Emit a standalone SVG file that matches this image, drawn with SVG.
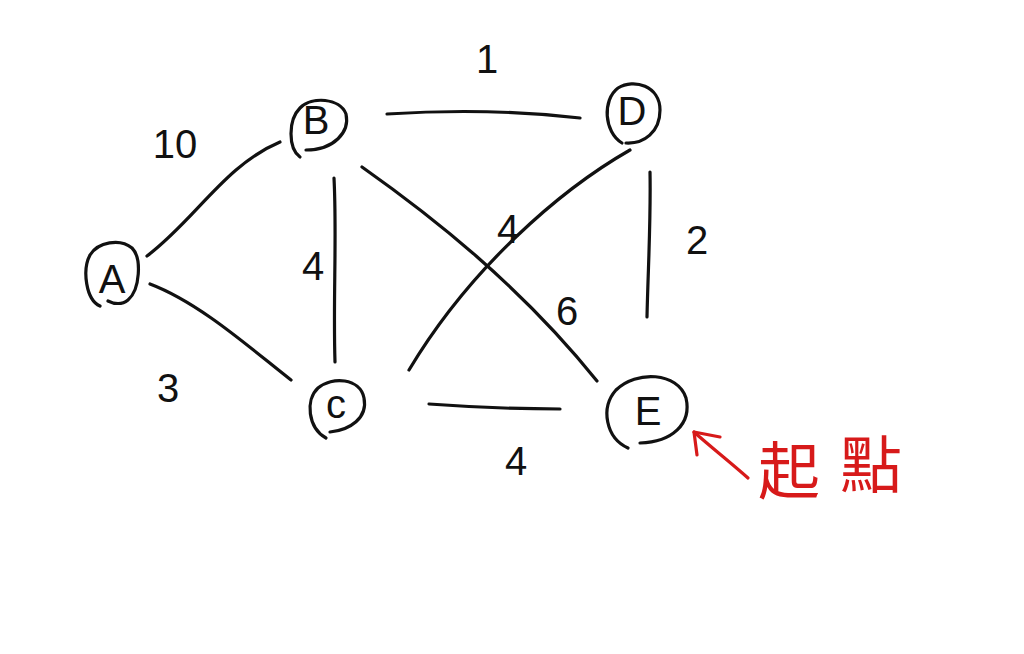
<svg xmlns="http://www.w3.org/2000/svg" width="1024" height="654" viewBox="0 0 1024 654">
<style>
.stroke{fill:none;stroke:#111;stroke-width:3.2;stroke-linecap:round;stroke-linejoin:round}
.lbl{font-family:"Liberation Sans","DejaVu Sans",sans-serif;font-size:40px;fill:#111;text-anchor:middle}
.red{fill:none;stroke:#d71a1a;stroke-width:3.2;stroke-linecap:round;stroke-linejoin:round}
</style>
<rect width="1024" height="654" fill="#ffffff"/>
<g id="connectors" class="stroke">
<path d="M147,256 C195,220 225,165 280,142"/>
<path d="M150,284 C200,303 250,348 291,380"/>
<path d="M387,114 C450,110 520,111 580,118"/>
<path d="M334,178 C337,235 333,300 335,362"/>
<path d="M362,167 C430,215 520,285 597,381"/>
<path d="M630,150 C560,190 470,268 409,370"/>
<path d="M650,172 C651,220 648,270 647,317"/>
<path d="M429,404 C470,407 520,409 560,409"/>
</g>
<g id="node-A">
<path class="stroke" d="M100,306 C86,300 82,270 90,255 C98,242 120,238 132,248 C142,258 140,290 128,300 C122,305 114,304 108,301"/>
<text class="lbl" x="112" y="293" font-size="46">A</text>
</g>
<g id="node-B">
<path class="stroke" d="M300,157 C288,148 288,120 300,108 C312,96 340,98 346,114 C350,132 334,150 306,150"/>
<text class="lbl" x="316" y="134">B</text>
</g>
<g id="node-D">
<path class="stroke" d="M622,143 C604,132 602,100 618,88 C634,78 660,86 660,110 C660,132 644,144 626,143"/>
<text class="lbl" x="632" y="125">D</text>
</g>
<g id="node-C">
<path class="stroke" d="M326,438 C308,428 305,400 318,388 C332,376 360,378 364,398 C368,418 350,430 330,432"/>
<text class="lbl" x="336" y="418">c</text>
</g>
<g id="node-E">
<path class="stroke" d="M628,448 C606,438 600,408 616,390 C636,370 678,372 686,398 C692,424 672,442 640,443"/>
<text class="lbl" x="648" y="425">E</text>
</g>
<g id="labels">
<text class="lbl" x="487" y="73">1</text>
<text class="lbl" x="175" y="158">10</text>
<text class="lbl" x="313" y="280">4</text>
<text class="lbl" x="508" y="243">4</text>
<text class="lbl" x="567" y="325">6</text>
<text class="lbl" x="697" y="254">2</text>
<text class="lbl" x="168" y="402">3</text>
<text class="lbl" x="516" y="475">4</text>
</g>
<g id="start-marker">
<path class="red" d="M748,478 C730,462 712,448 694,432"/>
<path class="red" d="M720,437 L694,432 L697,455"/>
<text x="758" y="494" font-family="'Noto Sans CJK TC',sans-serif" font-size="62" fill="#d71a1a">起<tspan dx="20" dy="-6">點</tspan></text>
</g>
</svg>
